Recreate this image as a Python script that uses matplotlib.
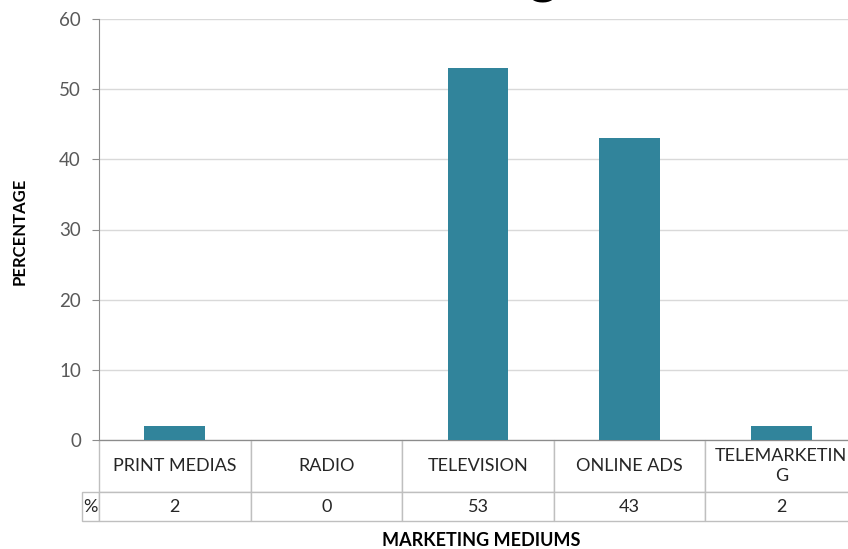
import numpy as np
import matplotlib
matplotlib.use("Agg")
import matplotlib.pyplot as plt

# data
mediums = ["PRINT MEDIAS", "RADIO", "TELEVISION", "ONLINE ADS", "TELEMARKETIN\nG"]
percent = [2, 0, 53, 43, 2]
yticks = [0, 10, 20, 30, 40, 50, 60]

plt.rcParams['font.family'] = ['Lato', 'DejaVu Sans']

bar_col = "#31849b"
grid_col = "#d9d9d9"
axis_col = "#8c8c8c"
table_col = "#bfbfbf"

fig = plt.figure(figsize=(8.48, 5.49), dpi=100)
W, H = 848, 549
# axes box in pixels: left 99, right 857 (past the edge), top 19, bottom 440
ax_w, ax_h = 857 - 99, 440 - 19
ax = fig.add_axes([99 / W, 1 - 440 / H, ax_w / W, ax_h / H])

x = np.arange(len(mediums))
ax.bar(x, percent, width=0.4, color=bar_col, zorder=3)
ax.set_xlim(-0.5, len(mediums) - 0.5)
ax.set_ylim(0, 60)
ax.set_yticks(yticks)
ax.set_xticks([])
ax.yaxis.grid(True, color=grid_col, lw=1, zorder=0)
for s in ["top", "right"]:
    ax.spines[s].set_visible(False)
ax.spines["left"].set_color(axis_col)
ax.spines["bottom"].set_color(axis_col)
ax.tick_params(axis="y", colors=axis_col, length=5, labelcolor="#595959",
               labelsize=13.5, pad=8)

# data table right under the axis, row label "%" hangs to the left
tbl = ax.table(cellText=[[str(v) for v in percent]], rowLabels=["%"],
               colLabels=mediums, cellLoc="center", rowLoc="center",
               loc="bottom")
tbl.auto_set_font_size(False)
for (r, c), cell in tbl.get_celld().items():
    cell.set_edgecolor(table_col)
    cell.set_linewidth(1)
    cell.set_width(19 / ax_w if c == -1 else 1 / len(mediums))
    cell.set_height((52 if r == 0 else 29) / ax_h)
    t = cell.get_text()
    t.set_fontsize(13)
    t.set_color("#262626")
    t.set_linespacing(1.35)

fig.text(20 / W, 1 - 231 / H, "PERCENTAGE", fontsize=12, fontweight="bold",
         rotation=90, ha="center", va="center")
fig.text(481 / W, 1 - 540 / H, "MARKETING MEDIUMS", fontsize=13,
         fontweight="bold", ha="center", va="center")

# title, cut off above the picture (only the tail of the g shows)
fig.text(559 / W, 1 + 7 / H, "Marketing", fontsize=40, fontweight="bold",
         ha="right", va="baseline")

fig.savefig("out.png", dpi=100)
